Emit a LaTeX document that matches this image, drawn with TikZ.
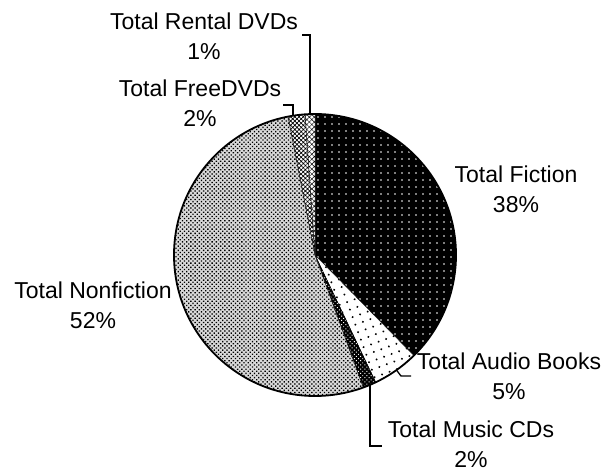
\documentclass[tikz,border=0pt]{standalone}
\usepackage{fontspec}
\setmainfont{Liberation Sans}
\usetikzlibrary{patterns.meta}

\begin{document}
\begin{tikzpicture}[x=1pt,y=1pt,
  lbl/.style={align=center, font=\fontsize{23}{30}\selectfont, inner sep=0pt},
  leader/.style={line width=1.3pt, line join=miter},
  wedge/.style={draw=black, line width=0.4pt},
  fictionfill/.style={preaction={fill=black}, pattern={Dots[distance=6.5pt, radius=1pt]}, pattern color=white},
  audiofill/.style={preaction={fill=white}, pattern={Dots[distance=8pt, angle=20, radius=1.1pt]}, pattern color=black},
  musicfill/.style={preaction={fill=black}, pattern={Dots[distance=3pt, angle=45, radius=0.7pt]}, pattern color=white},
  nonfictionfill/.style={preaction={fill=black!15}, pattern={Dots[distance=3pt, angle=45, radius=0.95pt]}, pattern color=black},
  freefill/.style={preaction={fill=white}, pattern={Hatch[distance=3pt, angle=45, line width=0.7pt]}, pattern color=black},
  rentalfill/.style={preaction={fill=white}, pattern={Hatch[distance=3.5pt, angle=45, line width=0.45pt]}, pattern color=black}]
\useasboundingbox (0,0) rectangle (605,471);

% pie centre
\coordinate (c) at (315,216);

% wedges, clockwise from twelve o'clock
\path[wedge, fictionfill] (c) -- ++(90:141) arc[start angle=90, end angle=-45.5, radius=141] -- cycle;
\path[wedge, audiofill] (c) -- ++(-45.5:141) arc[start angle=-45.5, end angle=-64.5, radius=141] -- cycle;
\path[wedge, musicfill] (c) -- ++(-64.5:141) arc[start angle=-64.5, end angle=-70, radius=141] -- cycle;
\path[wedge, nonfictionfill] (c) -- ++(-70:141) arc[start angle=-70, end angle=-259, radius=141] -- cycle;
\path[wedge, freefill] (c) -- ++(101:141) arc[start angle=101, end angle=94, radius=141] -- cycle;
\path[wedge, rentalfill] (c) -- ++(94:141) arc[start angle=94, end angle=90, radius=141] -- cycle;
\draw[line width=1.8pt] (c) circle[radius=141];

% labels
\node[lbl] (rental) at (204,435) {Total Rental DVDs\\1\%};
\node[lbl] (free) at (200,368) {Total FreeDVDs\\2\%};
\node[lbl] (fiction) at (516,282) {Total Fiction\\38\%};
\node[lbl] (nonfiction) at (93,166) {Total Nonfiction\\52\%};
\node[lbl] (audio) at (509,95) {Total Audio Books\\5\%};
\node[lbl] (music) at (471,27) {Total Music CDs\\2\%};

% leader lines
\coordinate (rentalEdge) at ([shift={(92:141)}]c);
\coordinate (rentalEnd) at (302,436);
\coordinate (freeEdge) at ([shift={(99:141)}]c);
\coordinate (freeEnd) at (283,366);
\coordinate (audioEdge) at ([shift={(-54.7:141)}]c);
\coordinate (audioKnee) at (401,95);
\coordinate (audioEnd) at (411,95);
\coordinate (musicEdge) at ([shift={(-67:141)}]c);
\coordinate (musicEnd) at (382,25);

\draw[leader] (rentalEdge) |- (rentalEnd);
\draw[leader] (freeEdge) |- (freeEnd);
\draw[leader] (audioEdge) -- (audioKnee) -- (audioEnd);
\draw[leader] (musicEdge) |- (musicEnd);
\end{tikzpicture}
\end{document}
